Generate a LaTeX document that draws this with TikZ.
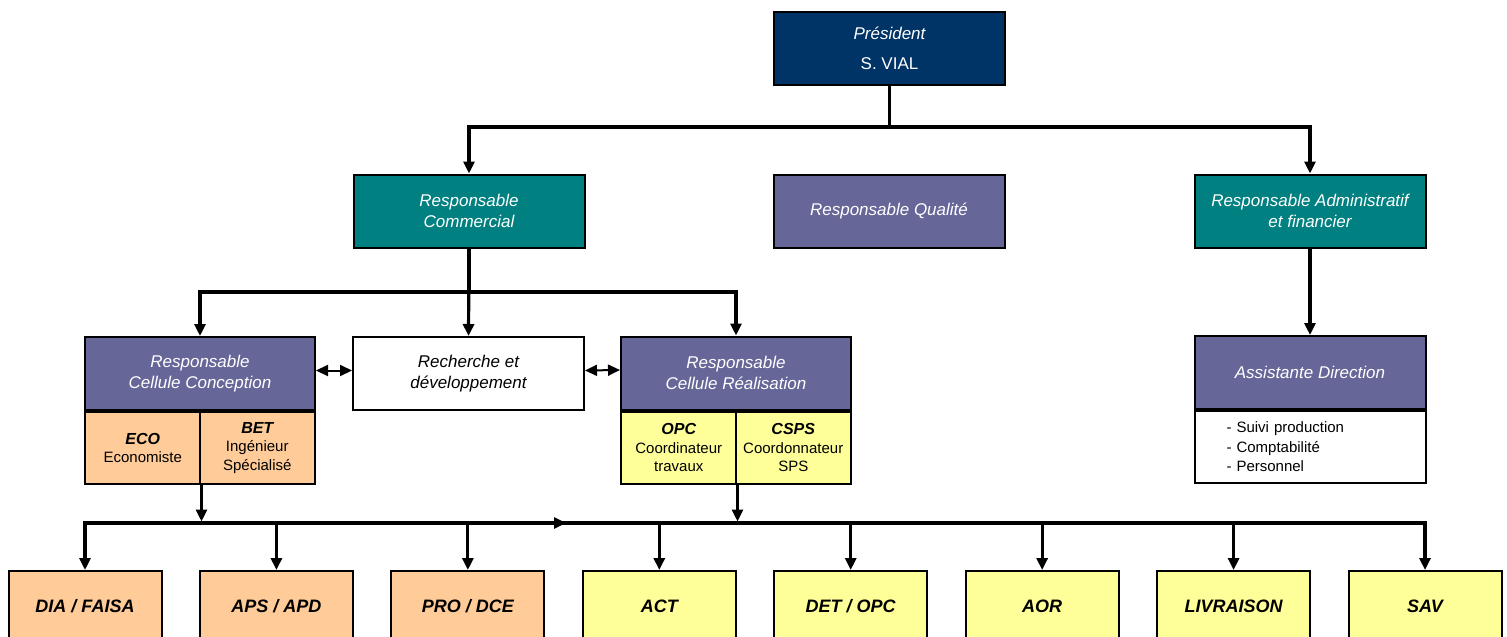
\documentclass[tikz,border=0pt]{standalone}
\usepackage{fontspec}
\setmainfont{Liberation Sans}
\usetikzlibrary{arrows.meta}

\definecolor{navyblue}{RGB}{0,51,102}
\definecolor{tealbox}{RGB}{0,128,128}
\definecolor{slatebox}{RGB}{102,102,153}
\definecolor{peachbox}{RGB}{255,204,153}
\definecolor{yellowbox}{RGB}{255,255,153}

% bold italic name of a unit inside a cell
\newcommand\unitname[1]{{\fontsize{16}{19}\selectfont\bfseries\itshape #1}}

\tikzset{
  box/.style={draw=black, line width=2pt, minimum width=231pt, minimum height=73pt,
    inner sep=0pt, align=center, font=\fontsize{17}{21.5}\selectfont\itshape},
  headbox/.style={box, text=white},
  halfbox/.style={draw=black, line width=2pt, minimum width=115.5pt, minimum height=72pt,
    inner sep=0pt, align=center, font=\fontsize{15}{18.5}\selectfont},
  stagebox/.style={draw=black, line width=2pt, minimum width=153pt, minimum height=71pt,
    inner sep=0pt, font=\fontsize{18}{22}\selectfont\bfseries\itshape},
  link/.style={line width=3.2pt, -{Triangle[length=12pt,width=11pt]}},
  dlink/.style={line width=2pt, {Triangle[length=12pt,width=11pt]}-{Triangle[length=12pt,width=11pt]}}
}

\begin{document}
\begin{tikzpicture}[x=1pt, y=-1pt]
\useasboundingbox (0,0) rectangle (1507,637);
\clip (0,0) rectangle (1507,637);

% --- management level ---
\node[headbox, fill=navyblue] (pres) at (889.5,48.5) {Président\\[8pt]\upshape S. VIAL};
\node[headbox, fill=tealbox] (comm) at (469,211) {Responsable\\Commercial};
\node[headbox, fill=slatebox] (qual) at (889,211) {Responsable Qualité};
\node[headbox, fill=tealbox] (admin) at (1310,211) {Responsable Administratif\\et financier};

% --- cells ---
\node[headbox, fill=slatebox, minimum width=230pt] (concep) at (200,373.5) {Responsable\\Cellule Conception};
\node[halfbox, fill=peachbox, anchor=north west] (eco) at (concep.south west)
  {\unitname{ECO}\\Economiste};
\node[halfbox, fill=peachbox, anchor=north east] (bet) at (concep.south east)
  {\unitname{BET}\\Ingénieur\\Spécialisé};

\node[box, fill=white] (rd) at (468.5,373.5) {Recherche et\\développement};

\node[headbox, fill=slatebox, minimum width=230pt] (real) at (736,373) {Responsable\\Cellule Réalisation};
\node[halfbox, fill=yellowbox, anchor=north west] (opc) at (real.south west)
  {\unitname{OPC}\\Coordinateur\\travaux};
\node[halfbox, fill=yellowbox, anchor=north east] (csps) at (real.south east)
  {\unitname{CSPS}\\Coordonnateur\\SPS};

\node[headbox, fill=slatebox] (assist) at (1310,372.5) {Assistante Direction};
\node[draw=black, line width=2pt, fill=white, anchor=north, minimum height=72pt,
  inner xsep=32pt, inner ysep=0pt, text width=167pt, align=left,
  font=\fontsize{15}{19.5}\selectfont] (tasks) at (assist.south)
  {- Suivi production\\- Comptabilité\\- Personnel};

% --- project stages ---
\foreach \name/\label/\col [count=\i from 0] in
  {dia/{DIA / FAISA}/peachbox, aps/{APS / APD}/peachbox, pro/{PRO / DCE}/peachbox,
   act/{ACT}/yellowbox, det/{DET / OPC}/yellowbox, aor/{AOR}/yellowbox,
   liv/{LIVRAISON}/yellowbox, sav/{SAV}/yellowbox}
  \node[stagebox, fill=\col, anchor=north] (\name) at ({85+191.43*\i},570) {\label};

% --- bus coordinates ---
\coordinate (topbus) at (0,127);
\coordinate (midbus) at (0,292);
\coordinate (lowbus) at (0,523);
\coordinate (lowtap) at (0,521.5);
\coordinate (busarrow) at (566,523);

% president to managers
\draw[link] (pres.south) -- (pres.south |- topbus) -| (comm.north);
\draw[link] (pres.south) -- (pres.south |- topbus) -| (admin.north);

% commercial to cells
\draw[link] (comm.south) -- (comm.south |- midbus) -| (concep.north);
\draw[link] (comm.south) -- (comm.south |- midbus) -| (real.north);
\draw[link] (comm.south) -- (rd.north);

% exchanges with research
\draw[dlink] ([yshift=3pt]concep.east) -- ([yshift=3pt]rd.west);
\draw[dlink] ([yshift=3pt]rd.east) -- ([yshift=3pt]real.west);

% administration to assistant
\draw[link] (admin.south) -- (assist.north);

% cells to the stage bus
\draw[link] (eco.south east) -- (eco.south east |- lowtap);
\draw[link] (opc.south east) -- (opc.south east |- lowtap);

% stage bus
\draw[link] (act.north |- lowbus) -| (dia.north);
\draw[link] (act.north |- lowbus) -| (sav.north);
\draw[link] (dia.north |- lowbus) -- (busarrow);
\foreach \name in {aps,pro,act,det,aor,liv}
  \draw[link] (\name.north |- lowbus) -- (\name.north);

\end{tikzpicture}
\end{document}
